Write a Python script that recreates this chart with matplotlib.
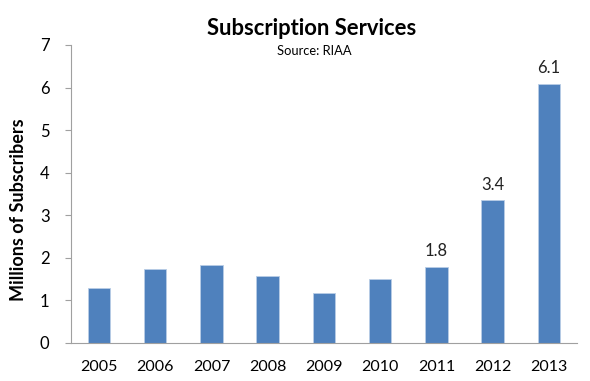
import matplotlib
matplotlib.use('Agg')
import matplotlib.pyplot as plt

years = ["2005", "2006", "2007", "2008", "2009", "2010", "2011", "2012", "2013"]
subscribers = [1.29, 1.74, 1.84, 1.57, 1.17, 1.51, 1.79, 3.35, 6.08]
labelled = {6: "1.8", 7: "3.4", 8: "6.1"}

plt.rcParams['font.family'] = ['Lato', 'DejaVu Sans']

fig = plt.figure(figsize=(5.9, 3.81), dpi=100)
ax = fig.add_axes([0.12, 0.1, 0.858, 0.782])

x = range(len(years))
ax.bar(x, subscribers, width=0.4, color="#4f81bd", edgecolor="#b8cde6", linewidth=0.6)

for i, txt in labelled.items():
    ax.text(i, subscribers[i] + 0.18, txt, ha="center", va="bottom", fontsize=12, color="#222222")

ax.set_xlim(-0.5, len(years) - 0.5)
ax.set_ylim(0, 7)
ax.set_xticks(list(x))
ax.set_xticklabels(years, fontsize=11.5)
ax.set_yticks(range(8))
ax.tick_params(axis="x", length=0, pad=12)
ax.tick_params(axis="y", length=4.3, color="#a0a0a0", labelsize=12, pad=11)
for s in ["top", "right"]:
    ax.spines[s].set_visible(False)
for s in ["left", "bottom"]:
    ax.spines[s].set_color("#a0a0a0")

ylab = fig.text(19 / 590, 1 - 210 / 381, "Millions of Subscribers", rotation=90,
                ha="center", va="center", fontsize=11, fontweight="bold")
title = fig.text(0.529, 0.908, "Subscription Services", ha="center", va="baseline", fontsize=16, fontweight="bold")
source = fig.text(0.532, 0.856, "Source: RIAA", ha="center", va="baseline", fontsize=9)

# scale texts so their lengths match the original (pixels)
renderer = fig.canvas.get_renderer()
for t, target, dim in [(title, 210, "width"), (source, 75, "width"), (ylab, 181, "height")]:
    ext = t.get_window_extent(renderer)
    t.set_fontsize(t.get_fontsize() * target / getattr(ext, dim))

fig.savefig("out.png", dpi=100)
